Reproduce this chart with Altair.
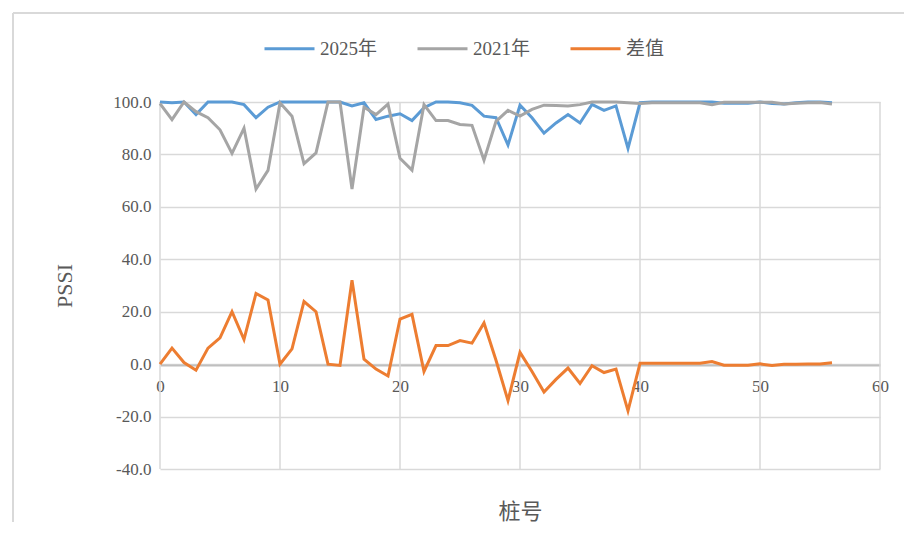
import altair as alt
import pandas as pd

stations = list(range(57))

pssi_2025 = [100, 99.7, 100, 95.2, 100, 100, 100, 99, 94, 98,
             100, 100, 100, 100, 100, 100, 98.5, 99.7, 93.3, 94.6,
             95.5, 92.9, 97.8, 100, 100, 99.7, 98.7, 94.6, 94, 83.6,
             98.8, 94, 88.1, 92, 95.2, 92, 99.1, 96.8, 98.5, 82.3,
             99.7, 100, 100, 100, 100, 100, 100, 99.5, 99.5, 99.5,
             100, 99.4, 99.2, 99.7, 100, 100, 99.7]

pssi_2021 = [99.4, 93.3, 100, 96.3, 94, 89.4, 80.4, 90, 66.8, 73.9,
             99.7, 94.6, 76.5, 80.6, 100, 100, 66.8, 98, 95.2, 99.2,
             78.5, 74, 99, 92.9, 92.9, 91.4, 91.1, 77.8, 92.6, 96.8,
             94.6, 97.2, 98.8, 98.7, 98.5, 99, 100, 100, 100, 99.7,
             99.4, 99.7, 99.7, 99.7, 99.7, 99.7, 99, 99.9, 99.9, 99.9,
             99.9, 99.9, 99.2, 99.5, 99.7, 99.8, 99.2]

diff = [0, 6.1, 0.6, -2.3, 6.1, 10, 20, 9.4, 27, 24.5,
        0, 5.8, 23.9, 20, 0, -0.5, 32, 1.9, -1.9, -4.5,
        17.2, 19, -2.8, 7.1, 7.1, 9, 8, 15.7, 1.5, -13.9,
        4.5, -2.8, -10.6, -5.8, -1.5, -7.4, -0.6, -3.2, -1.9, -17.8,
        0.3, 0.3, 0.3, 0.3, 0.3, 0.3, 1.0, -0.4, -0.4, -0.4,
        0.1, -0.5, 0.0, 0.0, 0.1, 0.1, 0.5]

series_names = ["2025年", "2021年", "差值"]
series_colors = ["#5B9BD5", "#A5A5A5", "#ED7D31"]

x_ticks = [0, 10, 20, 30, 40, 50, 60]
y_ticks = [-40, -20, 0, 20, 40, 60, 80, 100]

rows = []
for name, vals in zip(series_names, [pssi_2025, pssi_2021, diff]):
    for s, v in zip(stations, vals):
        rows.append({"桩号": s, "PSSI": v, "series": name})
df = pd.DataFrame(rows)

FONT = "'Liberation Serif', 'Noto Sans CJK SC'"
TXT = "#595959"
GRID = "#d9d9d9"

W, H = 720, 367

x_scale = alt.Scale(domain=[0, 60], nice=False, zero=False)
y_scale = alt.Scale(domain=[-40, 100], nice=False)

x_axis = alt.Axis(
    values=x_ticks,
    offset=-104,
    grid=False,
    ticks=False,
    domain=True,
    domainColor="#bfbfbf",
    domainWidth=2,
    labelFlush=False,
    labelPadding=13,
    labelFont=FONT,
    labelFontSize=17,
    labelColor=TXT,
    title="桩号",
    titleFont=FONT,
    titleFontSize=22,
    titleFontWeight="normal",
    titleColor=TXT,
    titlePadding=107,
)

grid = alt.Chart(pd.DataFrame({"桩号": x_ticks})).mark_rule(
    color=GRID, strokeWidth=1.5
).encode(
    x=alt.X("桩号:Q", scale=x_scale, axis=x_axis),
    y=alt.value(0),
    y2=alt.value(H),
)

lines = alt.Chart(df).mark_line(strokeWidth=3, clip=False).encode(
    x=alt.X("桩号:Q", scale=x_scale, axis=x_axis),
    y=alt.Y(
        "PSSI:Q",
        scale=y_scale,
        axis=alt.Axis(
            values=y_ticks,
            labelExpr="replace(format(datum.value, '.1f'), '\u2212', '-')",
            ticks=False,
            domain=False,
            grid=True,
            gridColor=GRID,
            gridWidth=1.5,
            labelPadding=9,
            labelFont=FONT,
            labelFontSize=17,
            labelColor=TXT,
            title="PSSI",
            titleFont=FONT,
            titleFontSize=22,
            titleFontWeight="normal",
            titleColor=TXT,
            titlePadding=36,
        ),
    ),
    color=alt.Color(
        "series:N",
        sort=series_names,
        scale=alt.Scale(domain=series_names, range=series_colors),
        legend=alt.Legend(
            title=None,
            orient="none",
            direction="horizontal",
            legendX=103,
            legendY=-80,
            symbolType="stroke",
            symbolSize=2500,
            symbolStrokeWidth=3,
            labelFont=FONT,
            labelFontSize=19,
            labelColor=TXT,
            labelOffset=4,
            columnPadding=33,
        ),
    ),
)

frame_top = alt.Chart(pd.DataFrame({"a": [0]})).mark_rule(
    color=GRID, strokeWidth=2
).encode(x=alt.value(-147), x2=alt.value(744), y=alt.value(-89))

frame_left = alt.Chart(pd.DataFrame({"a": [0]})).mark_rule(
    color=GRID, strokeWidth=2
).encode(x=alt.value(-147), y=alt.value(-89), y2=alt.value(420))

chart = alt.layer(frame_top, frame_left, grid, lines).properties(
    width=W,
    height=H,
    padding={"left": 4, "top": 4, "right": 0, "bottom": 0},
    background="white",
).configure_view(stroke=None)

chart.save("out.html", embed_options={"renderer": "svg", "actions": False})
